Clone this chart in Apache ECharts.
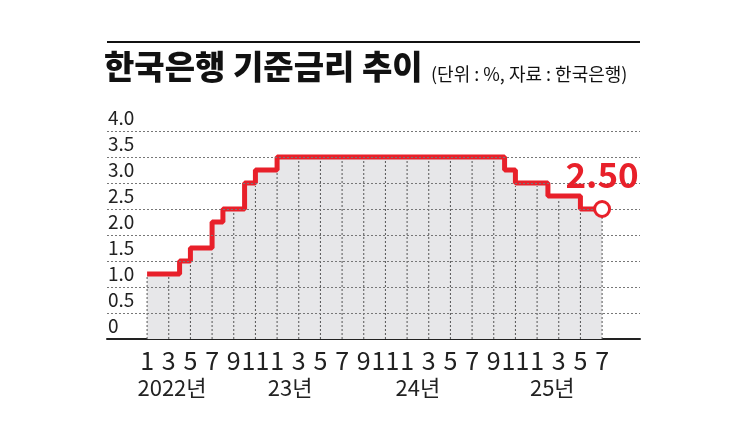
<!DOCTYPE html>
<html><head><meta charset="utf-8">
<script src="https://cdn.jsdelivr.net/npm/echarts@6/dist/echarts.min.js"></script>
<style>html,body{margin:0;padding:0;background:#fff}#c{width:745px;height:439px}</style>
</head><body><div id="c"></div>
<script>
// Monthly level as drawn on the picture's y scale, Jan 2022 .. Jul 2025 (43 months)
const rates = [1.0,1.0,1.0,1.25,1.5,1.5,2.0,2.25,2.25,2.75,3.0,3.0,
  3.25,3.25,3.25,3.25,3.25,3.25,3.25,3.25,3.25,3.25,3.25,3.25,
  3.25,3.25,3.25,3.25,3.25,3.25,3.25,3.25,3.25,3.0,2.75,2.75,
  2.75,2.5,2.5,2.5,2.25,2.25,2.25];
const lastLabel = '2.50';
const yTicks = [0,0.5,1.0,1.5,2.0,2.5,3.0,3.5,4.0];
const gridVals = [0.25,0.75,1.25,1.75,2.25,2.75,3.25,3.75];
const monthTicks = [];
for (let i = 0; i < rates.length; i += 2) monthTicks.push(i);
const yearLabels = ['2022년','23년','24년','25년'];
const yearPos = [2.3,13.2,25,37.4];
const title = '한국은행 기준금리 추이';
const subtitle = '(단위 : %, 자료 : 한국은행)';

const chart = echarts.init(document.getElementById('c'));
const narrow = "'Liberation Sans Narrow','Noto Sans CJK KR',sans-serif";
chart.setOption({
  animation:false,
  graphic:[
    {type:'line',shape:{x1:107,y1:42,x2:640,y2:42},style:{stroke:'#111',lineWidth:2}},
    {type:'text',left:104,top:50,style:{text:title,font:"900 33px 'Noto Sans CJK KR'",fill:'#111'}},
    {type:'text',left:431,top:65,style:{text:subtitle,font:"18px 'Noto Sans CJK KR'",fill:'#111'}}
  ],
  grid:{left:107,right:105,top:105,bottom:100},
  xAxis:[{
    type:'value',min:-3.7,max:45.5,
    axisLine:{show:true,onZero:false,lineStyle:{color:'#222',width:2}},
    axisTick:{show:false},splitLine:{show:false},
    axisLabel:{customValues:monthTicks,margin:9,fontSize:25,fontFamily:narrow,color:'#222',
      formatter:v=>String((Math.round(v)%12)+1)}
  },{
    type:'value',min:-3.7,max:45.5,position:'bottom',
    axisLine:{show:false,onZero:false},axisTick:{show:false},splitLine:{show:false},
    axisLabel:{customValues:yearPos,margin:38,fontSize:22,fontFamily:"'Noto Sans CJK KR'",color:'#222',
      formatter:v=>yearLabels[yearPos.indexOf(v)]}
  }],
  yAxis:{
    type:'value',min:-0.25,max:4.25,
    axisLine:{show:false},axisTick:{show:false},splitLine:{show:false},
    axisLabel:{customValues:yTicks,inside:true,margin:1,fontSize:19,fontFamily:narrow,color:'#222',
      formatter:v=>v===0?'0':v.toFixed(1)}
  },
  series:[
    {type:'line',step:'end',data:rates.map((v,i)=>[i,v]),
     lineStyle:{color:'#e8202a',width:5},
     areaStyle:{color:'#e7e7e9',origin:-0.25,opacity:1},
     symbol:'none',z:3,
     markLine:{silent:true,symbol:'none',label:{show:false},
       lineStyle:{color:'#777',type:[2,2],width:1},
       data:gridVals.map(v=>({yAxis:v}))},
     markPoint:{symbol:'circle',symbolSize:15,
       itemStyle:{color:'#fff',borderColor:'#e8202a',borderWidth:3},
       label:{show:true,position:'top',distance:8,formatter:lastLabel,color:'#e8202a',
         fontSize:35,fontWeight:'bold',fontFamily:narrow},
       data:[{coord:[rates.length-1,rates[rates.length-1]]}]}
    },
    {type:'custom',z:4,silent:true,data:monthTicks.map(i=>[i,Math.min(rates[i],i>0?rates[i-1]:rates[i])]),
     renderItem:(params,api)=>{
       const p1=api.coord([api.value(0),-0.25]);
       const p2=api.coord([api.value(0),api.value(1)]);
       return {type:'line',shape:{x1:p1[0],y1:p1[1],x2:p2[0],y2:p2[1]+3},
         style:{stroke:'#555',lineWidth:1,lineDash:[2,2]}};
     }}
  ]
});
</script></body></html>
